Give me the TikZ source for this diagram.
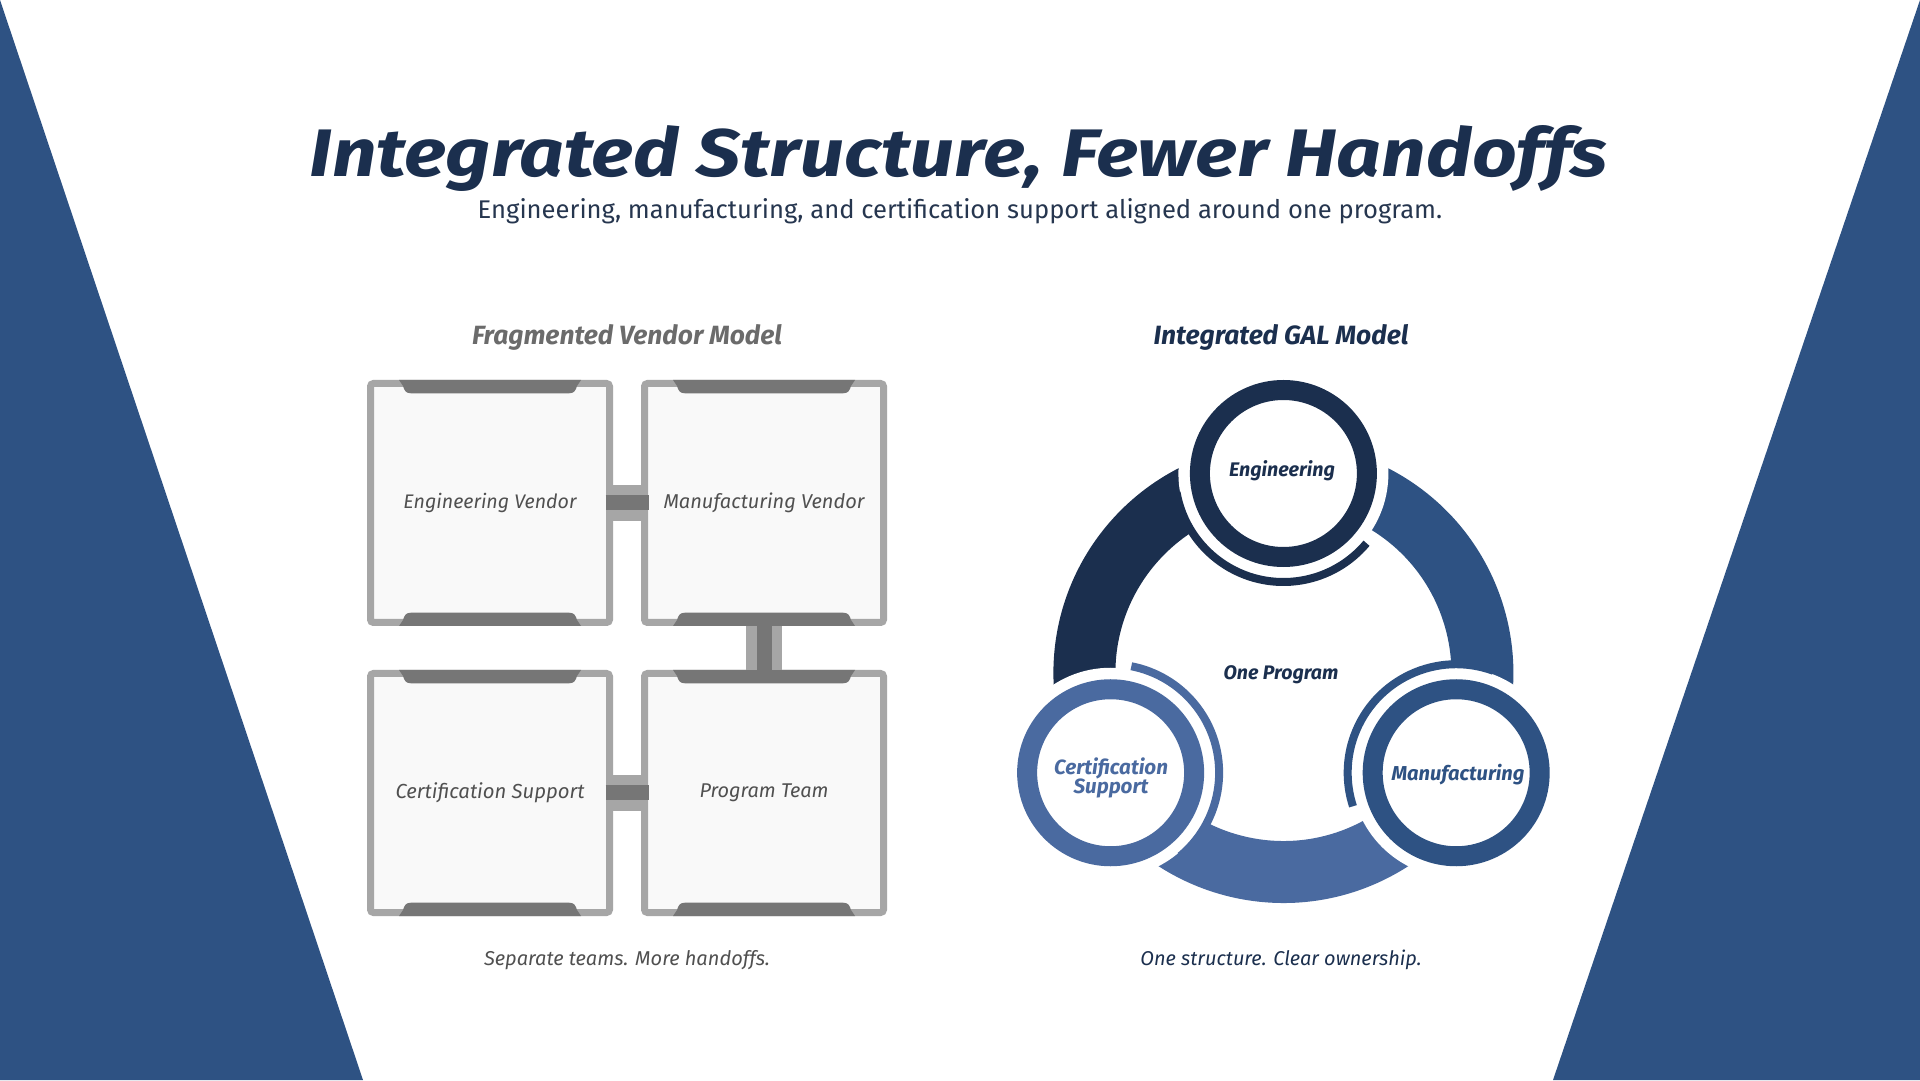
\documentclass[tikz,border=0pt]{standalone}
\usepackage{fontspec}
\setmainfont{Fira Sans}
\usepackage{graphicx}
\definecolor{navy}{HTML}{1B2F4E}
\definecolor{midblue}{HTML}{2E5283}
\definecolor{lightblue}{HTML}{4A6AA0}
\definecolor{bord}{HTML}{A6A6A6}
\definecolor{tabgray}{HTML}{767676}
\definecolor{boxfill}{HTML}{F9F9F9}
\definecolor{txtgray}{HTML}{505050}
\definecolor{headgray}{HTML}{6B6B6B}
\definecolor{subc}{HTML}{26364F}
\newcommand{\fitw}[2]{\resizebox{#1}{!}{#2}}
\begin{document}
\begin{tikzpicture}[x=1pt,y=1pt,
  box/.style={rectangle, draw=bord, line width=7pt, fill=boxfill,
    minimum width=239pt, minimum height=239pt, rounded corners=3pt,
    inner sep=0pt, outer sep=3.5pt, text=txtgray},
  connout/.style={draw=bord, line width=36pt},
  connin/.style={draw=tabgray, line width=15pt},
  lbl/.style={inner sep=0pt, outer sep=0pt, anchor=base},
  ringarc/.style={line width=62pt},
  accent/.style={line width=8pt},
  circ/.style={circle, fill=white, line width=20pt, minimum size=167pt, inner sep=0pt},
  boxtab/.pic={\fill[tabgray] (-91,0) -- (-87,-6) .. controls (-85.5,-11) and (-84,-13.3) .. (-79,-13.3)
      -- (79,-13.3) .. controls (84,-13.3) and (85.5,-11) .. (87,-6) -- (91,0) -- cycle;}
]
\useasboundingbox (0,0) rectangle (1920,1080);
\fill[white] (0,0) rectangle (1920,1080);
\fill[midblue] (0,1080) -- (363,0) -- (0,0) -- cycle;
\fill[midblue] (1920,1080) -- (1553,0) -- (1920,0) -- cycle;

% titles
\node[lbl, text=navy] (title) at (958.7,903)
  {\resizebox{1298pt}{51pt}{\fontsize{72}{80}\selectfont\bfseries\itshape Integrated Structure, Fewer Handoffs}};
\node[lbl, text=subc] (sub) at (960,861)
  {\fitw{964.5pt}{\fontsize{22}{26}\selectfont Engineering, manufacturing, and certification support aligned around one program.}};
\node[lbl, text=headgray] (lhead) at (627,735)
  {\fitw{310pt}{\fontsize{22}{26}\selectfont\bfseries\itshape Fragmented Vendor Model}};
\node[lbl, text=navy] (rhead) at (1281,735)
  {\fitw{255pt}{\fontsize{22}{26}\selectfont\bfseries\itshape Integrated GAL Model}};

% left: fragmented boxes
\node[box] (ev) at (490,577) {\fitw{173pt}{\fontsize{18}{22}\selectfont\itshape Engineering Vendor}};
\node[box] (mv) at (764,577) {\fitw{201pt}{\fontsize{18}{22}\selectfont\itshape Manufacturing Vendor}};
\node[box] (cs) at (490,287) {\fitw{189pt}{\fontsize{18}{22}\selectfont\itshape Certification Support}};
\node[box] (pt) at (764,287) {\fitw{129pt}{\fontsize{18}{22}\selectfont\itshape Program Team}};
\foreach \b in {ev,mv,cs,pt}{
  \pic at (\b.north) {boxtab};
  \pic[rotate=180] at (\b.south) {boxtab};
}
\draw[connout] (ev.east) -- (mv.west);
\draw[connin] ([xshift=-7.5pt]ev.east) -- ([xshift=7.5pt]mv.west);
\draw[connout] (cs.east) -- (pt.west);
\draw[connin] ([xshift=-7.5pt]cs.east) -- ([xshift=7.5pt]pt.west);
\draw[connout] (mv.south) -- (pt.north);
\draw[connin] (mv.south) -- (pt.north);

\node[lbl, text=txtgray] (lfoot) at (627,115)
  {\fitw{286pt}{\fontsize{18}{22}\selectfont\itshape Separate teams. More handoffs.}};

% right: integrated model
\coordinate (C) at (1283.4,407);
\coordinate (pe) at ([shift={(90:199.5)}]C);
\coordinate (pc) at ([shift={(210:199.5)}]C);
\coordinate (pm) at ([shift={(330:199.5)}]C);
\draw[ringarc, navy] ([shift={(90:199)}]C) arc[start angle=90, end angle=210, radius=199];
\draw[ringarc, lightblue] ([shift={(210:199)}]C) arc[start angle=210, end angle=330, radius=199];
\draw[ringarc, midblue] ([shift={(-30:199)}]C) arc[start angle=-30, end angle=90, radius=199];
\fill[white] (pe) circle[radius=105];
\fill[white] (pc) circle[radius=105];
\fill[white] (pm) circle[radius=105];
\draw[accent, navy] ([shift={(190:108.5)}]pe) arc[start angle=190, end angle=320, radius=108.5];
\draw[accent, lightblue] ([shift={(-50:108.5)}]pc) arc[start angle=-50, end angle=79, radius=108.5];
\draw[accent, midblue] ([shift={(70:108.5)}]pm) arc[start angle=70, end angle=198, radius=108.5];
\node[circ, draw=navy] (eng) at (pe) {};
\node[circ, draw=lightblue] (cert) at (pc) {};
\node[circ, draw=midblue] (manu) at (pm) {};

\node[lbl, text=navy] (engt) at (1282,603.3)
  {\fitw{105.7pt}{\fontsize{18}{22}\selectfont\bfseries\itshape Engineering}};
\node[inner sep=0pt, text=lightblue] (certt) at (1111,302)
  {\fitw{114pt}{\fontsize{18}{14}\selectfont\bfseries\itshape\begin{tabular}{@{}c@{}}Certification\\Support\end{tabular}}};
\node[lbl, text=midblue] (manut) at (1458,299)
  {\fitw{133pt}{\fontsize{18}{22}\selectfont\bfseries\itshape Manufacturing}};
\node[lbl, text=navy] (onep) at (1281,400)
  {\fitw{114.7pt}{\fontsize{18}{22}\selectfont\bfseries\itshape One Program}};

\node[lbl, text=navy] (rfoot) at (1281,115)
  {\fitw{281pt}{\fontsize{18}{22}\selectfont\itshape One structure. Clear ownership.}};
\end{tikzpicture}
\end{document}
